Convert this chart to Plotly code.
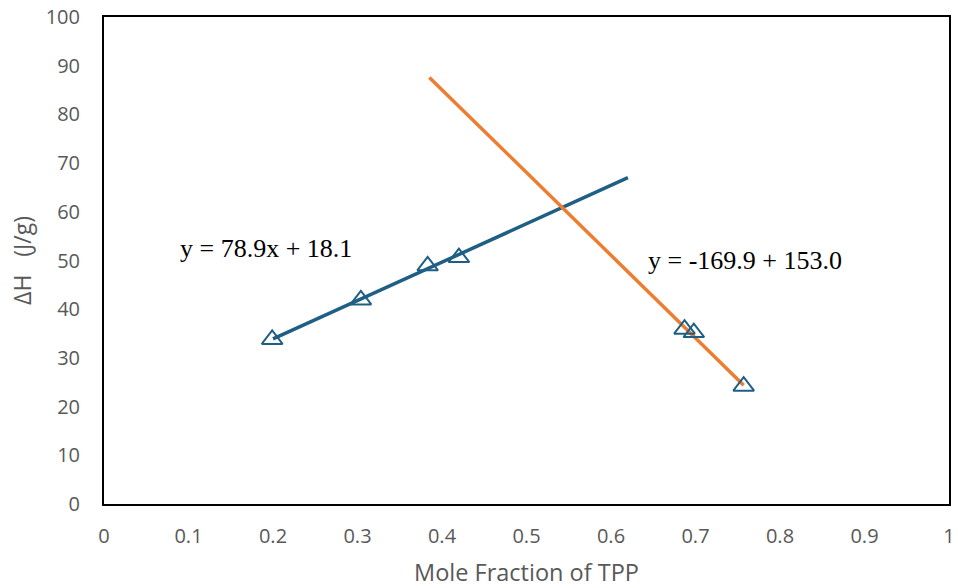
import plotly.graph_objects as go

# measured data points
pts_x = [0.199, 0.304, 0.383, 0.420, 0.687, 0.698, 0.757]
pts_y = [33.8, 41.9, 48.9, 50.6, 35.9, 35.2, 24.2]

# trendline endpoints
trend1_x = [0.20, 0.62]
trend1_y = [33.9, 67.0]
trend2_x = [0.385, 0.757]
trend2_y = [87.6, 24.4]

eq1 = "y = 78.9x + 18.1"
eq2 = "y = -169.9 + 153.0"

x_ticks = [0, 0.1, 0.2, 0.3, 0.4, 0.5, 0.6, 0.7, 0.8, 0.9, 1]
x_tick_labels = ["0", "0.1", "0.2", "0.3", "0.4", "0.5", "0.6", "0.7", "0.8", "0.9", "1"]
y_ticks = list(range(0, 101, 10))

blue = "#1f5f84"
orange = "#ed7d31"
font_fam = "Open Sans, Liberation Sans, Arial, sans-serif"
serif = "Liberation Serif, Times New Roman, serif"

fig = go.Figure()
fig.add_trace(go.Scatter(x=trend1_x, y=trend1_y, mode="lines",
                         line=dict(color=blue, width=3.5), showlegend=False))
fig.add_trace(go.Scatter(x=trend2_x, y=trend2_y, mode="lines",
                         line=dict(color=orange, width=3.5), showlegend=False))
fig.add_trace(go.Scatter(x=pts_x, y=pts_y, mode="markers",
                         marker=dict(symbol="triangle-up-open", size=18,
                                     color=blue, line=dict(width=2, color=blue)),
                         showlegend=False))

fig.add_annotation(x=0.087, y=52.4, xref="x", yref="y", text=eq1, showarrow=False,
                   xanchor="left", yanchor="middle",
                   font=dict(family=serif, size=26, color="black"))
fig.add_annotation(x=0.641, y=50.1, xref="x", yref="y", text=eq2, showarrow=False,
                   xanchor="left", yanchor="middle",
                   font=dict(family=serif, size=26, color="black"))

fig.update_layout(
    width=958, height=588,
    margin=dict(l=104, r=9, t=17, b=84),
    plot_bgcolor="white", paper_bgcolor="white",
    font=dict(family=font_fam, color="#595959", size=20),
)
fig.update_xaxes(range=[0, 1], tickvals=x_ticks, ticktext=x_tick_labels,
                 showgrid=False, zeroline=False, showline=True, mirror=True,
                 linecolor="black", linewidth=2, ticks="", ticklen=0,
                 automargin=False, ticklabelstandoff=13, ticklabeloverflow="allow",
                 tickfont=dict(size=20, color="#595959"),
                 title=dict(text="Mole Fraction of TPP", font=dict(size=23.5, color="#595959"), standoff=17))
fig.update_yaxes(range=[0, 100], tickvals=y_ticks,
                 showgrid=False, zeroline=False, showline=True, mirror=True,
                 linecolor="black", linewidth=2, ticks="", ticklen=0,
                 automargin=False, ticklabelstandoff=18, ticklabeloverflow="allow",
                 tickfont=dict(size=20, color="#595959"),
                 title=dict(text="\u0394H\u00a0\u00a0\u00a0(J/g)", font=dict(size=23, color="#595959"), standoff=8))

fig.write_html("out.html", config={"displayModeBar": False},
               post_script="document.body.style.margin='0';document.body.style.overflow='hidden';")
